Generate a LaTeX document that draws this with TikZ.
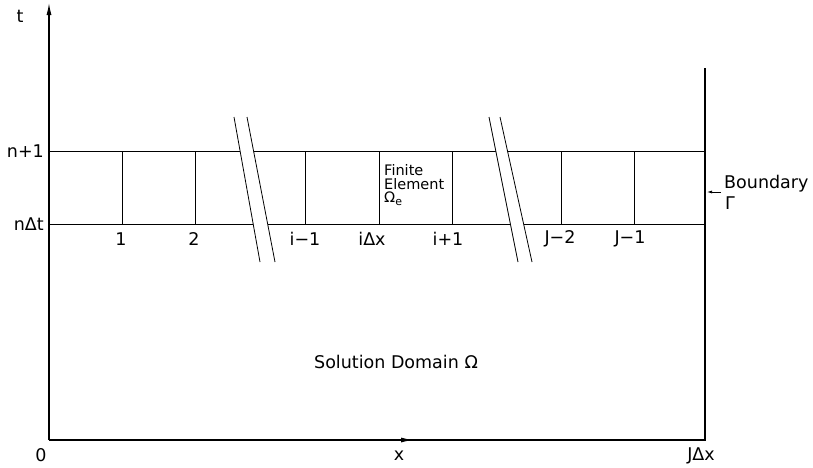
\documentclass[tikz,border=0pt]{standalone}
\usepackage{fontspec}
\setmainfont{DejaVu Sans}
\usetikzlibrary{arrows.meta}

\tikzstyle{grid} = [line width=0.8pt]
\tikzstyle{axis} = [line width=1.1pt]
\tikzstyle{lbl} = [font=\fontsize{17.5}{20}\selectfont, inner sep=0pt]
\tikzstyle{small} = [font=\fontsize{14.5}{16}\selectfont, inner sep=0pt, align=left]
\tikzstyle{tip} = [-{Latex[length=12pt,width=5pt]}]

\begin{document}
\begin{tikzpicture}[x=1pt,y=-1pt]
\useasboundingbox (0,0) rectangle (813,467);

% axes and boundary
\coordinate (origin) at (49,440);
\coordinate (ttop) at (49,3);
\coordinate (xmid) at (413,440);
\coordinate (xend) at (705,440);
\coordinate (btop) at (705,68);
\draw [axis] (origin) -- (xend) -- (btop);
\draw [axis,tip] (origin) -- (ttop);
\draw [axis,tip] (origin) -- (xmid);

% time levels
\draw [grid] (49,151) -- (705,151);
\draw [grid] (49,224) -- (705,224);
\foreach \x in {122,195,305,379,452,561,634}
  \draw [grid] (\x,151) -- (\x,224);

% break marks
\fill [white] (234,117) -- (247,117) -- (275,262) -- (260,262) -- cycle;
\draw [grid] (234,117) -- (260,262);
\draw [grid] (247,117) -- (275,262);
\fill [white] (489,117) -- (500,117) -- (532,262) -- (518,262) -- cycle;
\draw [grid] (489,117) -- (518,262);
\draw [grid] (500,117) -- (532,262);

% labels
\node (tlbl) [lbl] at (20,16) {t};
\node (nlev) [lbl, anchor=east] at (44,151) {n+1};
\node (nlow) [lbl, anchor=east] at (44,224) {nΔt};
\foreach \x/\t in {121/1, 194/2, 305/i−1, 372/iΔx, 448/i+1, 560/J−2, 630/J−1}
  \node [lbl] at (\x,239) {\t};
\node (elem) [small, anchor=north west] at (384,164) {Finite\\[-2pt]Element\\[-3pt]Ω\raisebox{-3pt}{\fontsize{11}{12}\selectfont e}};
\node (bnd) [lbl, anchor=west] at (724,184) {Boundary};
\node (gam) [lbl, anchor=west] at (725,203) {Γ};
\draw [-{Latex[length=5pt,width=3pt]}, line width=0.7pt] (721,192) -- (707,192);
\node (dom) [lbl] at (396,362) {Solution Domain Ω};
\node (zero) [lbl] at (41,455) {0};
\node (xlbl) [lbl] at (399,456) {x};
\node (jend) [lbl] at (701,456) {JΔx};
\end{tikzpicture}
\end{document}
